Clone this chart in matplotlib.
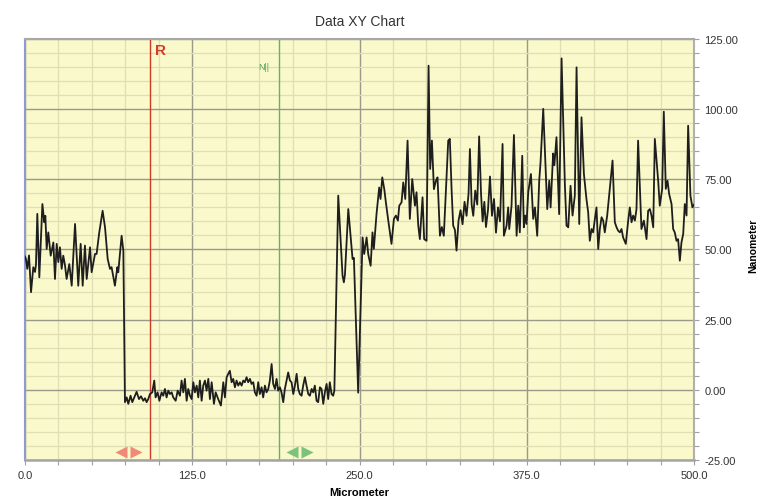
import matplotlib
matplotlib.use("Agg")
import matplotlib.pyplot as plt
from matplotlib.ticker import MultipleLocator, FormatStrFormatter

plt.rcParams['font.family'] = ['Liberation Sans', 'DejaVu Sans']

OUT_FILE = "out.png"

# profile trace: position (um) and height (nm)
micrometer = [
    0.0, 0.7, 1.7, 3.0, 4.5, 6.2, 7.5, 8.2, 9.2, 10.7, 13.0, 14.4, 15.2, 16.2,
    17.4, 19.2, 21.2, 22.4, 23.7, 24.9, 26.1, 27.4, 28.6, 29.9, 31.1, 33.1,
    34.9, 37.4, 39.8, 41.6, 43.1, 44.8, 46.1, 48.6, 49.8, 52.3, 53.5, 55.5,
    58.0, 59.8, 61.8, 63.5, 64.7, 67.2, 69.0, 69.7, 72.2, 73.5,
    74.7, 76.0, 77.2, 78.9, 80.2, 81.7, 83.4, 85.2, 86.7, 88.4, 89.7, 90.9,
    92.1, 93.4, 95.1, 96.6, 97.6, 99.1, 100.4, 102.1, 103.3, 104.6, 105.8,
    107.1, 108.3, 109.6, 110.8, 112.6, 114.1, 115.8, 117.0, 118.3, 119.5,
    120.8, 122.0, 123.3, 124.5, 125.8, 127.0, 128.3, 129.5, 130.7, 132.0,
    133.2, 134.5, 135.7, 137.0, 138.2, 139.5, 141.2, 142.5, 144.4, 146.4,
    148.2, 149.4, 150.7, 151.9, 153.1, 154.4, 155.6, 156.9, 158.1, 159.4,
    160.6, 161.9, 163.1, 164.3, 165.6, 166.8, 168.1, 169.3, 170.6, 171.8,
    173.1, 174.3, 175.5, 176.8, 178.0, 179.3, 180.5, 181.8, 183.0, 184.3,
    185.5, 186.8, 188.0, 189.2, 190.5, 191.7, 193.0, 194.2, 195.5, 196.7,
    198.0, 199.2, 200.5, 201.7, 203.0, 204.2, 205.4, 206.7, 207.9, 209.2,
    210.4, 211.7, 212.9, 214.2, 215.4, 216.6, 217.9, 219.1, 220.4, 221.6,
    222.9, 224.1, 225.4, 226.6, 227.8, 229.1, 230.3, 231.2,
    234.1, 237.3, 238.3, 239.1, 241.6, 244.1, 244.8, 245.8, 249.0, 252.3,
    253.5, 255.3, 256.5, 258.3, 259.7, 260.7, 262.7, 264.7, 265.7, 267.0,
    268.5, 269.7, 271.5, 273.9, 275.7, 277.2, 278.7, 279.7, 281.4, 282.7,
    284.2, 285.9, 287.6, 289.4, 291.4, 292.6, 293.9, 295.1, 297.1, 298.3,
    300.1, 301.6, 302.8, 304.1, 305.6, 307.1, 308.3, 310.1, 311.5, 313.0,
    314.5, 316.3, 317.5, 318.8, 320.0, 321.3, 322.5, 324.0,
    325.5, 327.0, 328.5, 330.0, 331.5, 332.5, 333.8, 335.0, 336.5, 338.0,
    339.4, 340.8, 342.0, 343.3, 344.5, 346.0, 347.5, 349.0, 350.5, 352.0,
    353.5, 355.0, 356.9,
    357.9, 359.9, 361.1, 361.9, 363.6, 365.4, 367.4, 368.6, 369.8, 371.6,
    372.8, 373.8, 374.8, 376.1, 378.1, 379.8, 381.1, 382.8, 384.3, 385.3,
    387.3, 390.3, 391.8, 392.8, 394.7, 395.6, 397.2, 399.2, 401.0, 403.5,
    404.7, 406.0, 407.7, 409.2, 410.9, 412.2, 414.2, 415.9, 417.7, 419.6,
    420.9, 422.1, 423.4, 424.6, 425.9, 427.1, 428.4, 429.6, 430.9, 432.1,
    433.3, 435.1, 439.1, 440.8, 442.1, 443.3, 444.6, 445.8, 447.0, 449.0,
    450.8, 452.0, 453.3, 454.5, 455.8, 457.0, 458.2, 460.7, 462.5, 464.5,
    465.7, 467.0, 468.2, 469.5, 470.7, 473.2, 474.4, 476.2, 477.4, 478.9,
    480.2, 481.4, 483.2, 484.4, 485.6, 486.9, 488.1, 489.4, 490.6, 491.9,
    493.1, 494.4, 495.6, 497.3, 498.8, 500.0,
]
nanometer = [
    47.5, 46.6, 43.1, 47.9, 34.8, 43.7, 42.0, 44.6, 62.7, 40.1, 66.2, 59.7,
    62.0, 50.2, 56.1, 47.8, 52.5, 39.5, 52.0, 45.5, 50.8, 43.1, 47.8, 44.3,
    39.5, 44.8, 37.1, 59.1, 37.1, 52.0, 37.1, 51.4, 39.5, 50.8, 41.9, 48.4,
    48.4, 56.1, 63.8, 57.9, 46.6, 43.1, 43.7, 37.1, 43.7, 41.9, 54.9, 49.6,
    -4.4, -2.7, -5.0, -2.1, -4.4, -2.7, -0.7, -3.3, -2.3, -3.9, -3.0, -4.4,
    -3.3, -1.5, -0.9, 3.3, -2.7, -0.9, -3.9, -0.9, -2.1, 0.3, -2.7,
    -0.3, -1.5, -0.9, -2.7, -3.9, -0.3, -2.1, 3.3, -0.9, 3.9,
    -3.9, 0.3, -2.1, -3.3, 2.7, -0.9, 1.5, -2.7, 3.3, -3.9,
    1.5, 3.3, -0.3, 3.9, -3.3, 2.7, -5.0, -0.9, -3.3, -5.6,
    2.7, -2.7, 4.5, 5.7, 6.8, 2.7, 3.9, 0.9, 3.3, 1.5,
    2.7, 1.5, 3.3, 2.7, 4.5, 2.7, 3.9, 2.1, 2.7, -0.9,
    -2.1, 2.7, -1.5, 0.9, -2.7, 1.5, -0.9, 0.3, 3.3, 9.2,
    2.1, 0.3, 3.9, -0.3, 0.9, -0.9, -4.4, 0.3, 3.3, 6.2,
    3.3, 2.7, -1.5, 1.5, 5.7, 0.3, -1.5, -2.1, 1.5, 4.5,
    1.5, -1.5, -2.1, 0.3, -0.9, 1.5, -3.9, -4.4, 0.9, 0.3,
    -5.0, -0.9, 2.1, -3.3, 2.7, -1.5, -2.1, -0.3,
    69.2, 40.7, 38.3, 41.0, 64.4, 50.2, 46.6, 47.0, -1.0, 54.3,
    48.4, 54.3, 48.4, 44.2, 56.1, 50.2, 62.6, 72.1, 68.0, 75.7,
    71.5, 66.8, 60.3, 52.0, 60.9, 62.1, 60.3, 65.6, 66.8, 73.9,
    68.0, 88.8, 60.9, 75.1, 65.6, 70.4, 58.5, 53.7, 68.6, 53.7,
    53.1, 115.5, 78.7, 88.8, 71.5, 74.5, 75.7, 54.9, 58.0, 54.9,
    70.4, 88.8, 89.4, 71.5, 58.5, 57.0, 49.6, 60.3,
    64.0, 59.0, 67.0, 62.0, 70.0, 85.8, 66.0, 62.0, 71.0, 66.0,
    90.3, 70.0, 60.0, 67.0, 58.0, 64.0, 76.0, 62.0, 68.0, 56.0,
    65.0, 60.0, 87.6,
    54.9, 58.5, 65.0, 57.3, 65.6, 90.8, 54.9, 65.6, 56.1, 83.4,
    57.9, 62.1, 59.1, 70.4, 76.9, 60.9, 65.0, 54.9, 74.5, 81.1,
    100.1, 64.4, 74.5, 65.0, 84.2, 80.0, 90.0, 62.6, 118.1, 72.7,
    58.5, 57.9, 72.7, 62.1, 69.2, 114.9, 59.1, 97.1, 76.9, 68.0,
    63.2, 53.1, 57.3, 56.1, 60.9, 65.0, 50.2, 57.3, 61.5, 60.3,
    56.1, 62.1, 81.7, 59.7, 57.9, 56.7, 56.1, 57.3, 54.3, 52.0,
    60.3, 65.0, 59.7, 62.1, 60.3, 64.4, 88.8, 57.3, 60.3, 53.7,
    63.8, 64.4, 62.1, 57.9, 89.4, 74.5, 65.6, 71.6, 99.1, 71.6,
    74.5, 69.8, 66.2, 57.3, 56.1, 53.1, 53.7, 46.0, 52.5, 55.5,
    66.2, 62.1, 94.1, 69.2, 65.0, 66.0,
]

# cursor positions and their drag handles
cursor_r = 93.5
cursor_g = 190.0
handles_r = [72.1, 83.3]
handles_g = [199.5, 211.1]
handle_y = -22.0


fig = plt.figure(figsize=(7.6, 5.02), dpi=100)
ax = fig.add_axes([0.0329, 0.0817, 0.8803, 0.8386])
ax.set_facecolor('#f9f9cb')
ax.set_axisbelow(True)

ax.set_xlim(0, 500)
ax.set_ylim(-25, 125)
ax.xaxis.set_major_locator(MultipleLocator(125))
ax.xaxis.set_minor_locator(MultipleLocator(25))
ax.yaxis.set_major_locator(MultipleLocator(25))
ax.yaxis.set_minor_locator(MultipleLocator(5))
ax.xaxis.set_major_formatter(FormatStrFormatter('%.1f'))
ax.yaxis.set_major_formatter(FormatStrFormatter('%.2f'))
ax.yaxis.tick_right()

ax.grid(which='minor', color='#e0dfb4', lw=0.9)
ax.grid(which='major', color='#9a9a8a', lw=1.0)

ax.tick_params(which='both', direction='out', length=3.5, width=0.8,
               color='#a0a0a0', labelsize=8, labelcolor='#333333')
ax.tick_params(axis='y', which='both', pad=4)
ax.tick_params(axis='x', which='both', pad=3.5)

for side, col, lw in [('left', '#8c9bd4', 1.5), ('bottom', '#a4a4a4', 1.8),
                      ('top', '#a8a8a8', 1.5), ('right', '#b0b0b0', 1.5)]:
    ax.spines[side].set_color(col)
    ax.spines[side].set_linewidth(lw)

ax.plot(micrometer, nanometer, color='#1e1e1e', lw=1.3, zorder=3,
        solid_joinstyle='round')

ax.axvline(cursor_r, color='#cc3a28', lw=1.0, zorder=2)
ax.axvline(cursor_g, color='#6aae6a', lw=1.0, zorder=2)
ax.text(cursor_r + 3.7, 121, 'R', color='#d43d2a', fontweight='bold',
        fontsize=11, va='center', ha='left')
ax.text(174, 115.2, 'N||', color='#5aa55a', fontsize=6.5, va='center', ha='left')

ax.plot(handles_r[0], handle_y, marker='<', ms=9, color='#f08a78', mec='none')
ax.plot(handles_r[1], handle_y, marker='>', ms=9, color='#f08a78', mec='none')
ax.plot(handles_g[0], handle_y, marker='<', ms=9, color='#7cc27c', mec='none')
ax.plot(handles_g[1], handle_y, marker='>', ms=9, color='#7cc27c', mec='none')

ax.set_title('Data XY Chart', fontsize=10, color='#333333', pad=10)
ax.set_xlabel('Micrometer', fontsize=8, fontweight='bold')
ax.xaxis.set_label_coords(0.5, -0.064)
fig.text(753 / 760, 0.51, 'Nanometer', rotation=90, ha='center', va='center',
         fontsize=7.5, fontweight='bold')

fig.savefig(OUT_FILE, dpi=100)
